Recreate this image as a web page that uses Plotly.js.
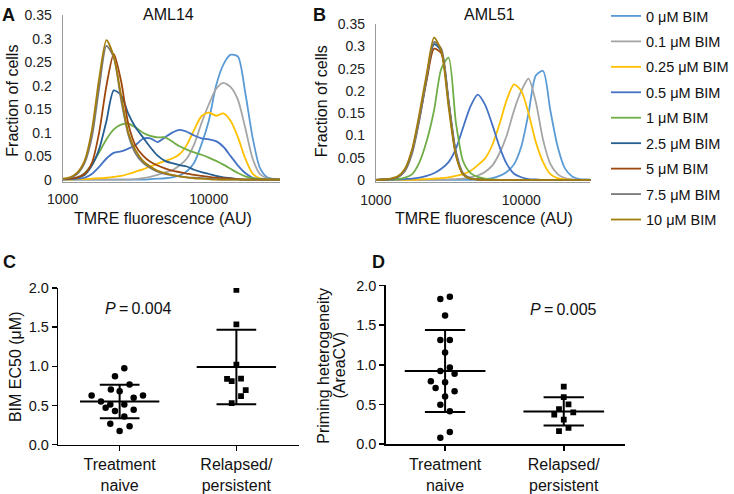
<!DOCTYPE html>
<html><head><meta charset="utf-8">
<script src="https://cdn.plot.ly/plotly-3.0.1.min.js"></script>
<style>html,body{margin:0;padding:0;background:#fff}#chart{width:734px;height:494px}</style>
</head><body><div id="chart"></div>
<script>
// ---------- DATA ----------
const tmreAU = [1000,1122,1259,1413,1585,1778,1995,2239,2512,2818,3162,3548,3981,4467,5012,5623,6310,7079,7943,8913,10000,11220,12589,14125,15849,17783,19953,22387,25119,28184,31623];
const tmreTicks = [1000, 10000];
const tmreTickText = ['1000', '10000'];
const fracTicks = [0,0.05,0.1,0.15,0.2,0.25,0.3,0.35];
const fracTickText = ['0','0.05','0.1','0.15','0.2','0.25','0.3','0.35'];
const doseLabels = ['0 μM BIM','0.1 μM BIM','0.25 μM BIM','0.5 μM BIM','1 μM BIM','2.5 μM BIM','5 μM BIM','7.5 μM BIM','10 μM BIM'];

// AML14 (panel A) fraction of cells per dose
const aml14_0   = [0,0,0,0,0,0,0,0,0,0,0,0,0.001,0.002,0.003,0.005,0.009,0.018,0.036,0.075,0.125,0.2,0.245,0.266,0.262,0.185,0.09,0.025,0.005,0.001,0];
const aml14_01  = [0,0,0,0,0,0,0,0,0,0,0.001,0.003,0.006,0.01,0.015,0.02,0.03,0.045,0.075,0.12,0.16,0.193,0.206,0.197,0.17,0.11,0.045,0.012,0.003,0.001,0];
const aml14_025 = [0,0,0.001,0.001,0.002,0.003,0.004,0.006,0.008,0.012,0.017,0.022,0.028,0.034,0.04,0.045,0.054,0.074,0.106,0.135,0.143,0.136,0.141,0.125,0.09,0.045,0.013,0.003,0.001,0,0];
const aml14_05  = [0,0.001,0.002,0.004,0.012,0.027,0.045,0.057,0.06,0.066,0.074,0.087,0.088,0.08,0.09,0.1,0.106,0.102,0.094,0.088,0.086,0.082,0.07,0.05,0.03,0.014,0.004,0.001,0,0,0];
const aml14_1   = [0.001,0.002,0.004,0.014,0.032,0.058,0.086,0.107,0.117,0.119,0.111,0.1,0.093,0.09,0.09,0.081,0.071,0.064,0.058,0.053,0.047,0.04,0.032,0.023,0.014,0.007,0.003,0.001,0,0,0];
const aml14_25  = [0.001,0.002,0.004,0.01,0.03,0.065,0.125,0.19,0.18,0.14,0.111,0.09,0.069,0.051,0.04,0.035,0.031,0.028,0.021,0.016,0.012,0.008,0.005,0.003,0.001,0,0,0,0,0,0];
const aml14_5   = [0.001,0.002,0.005,0.012,0.035,0.1,0.2,0.268,0.21,0.118,0.072,0.051,0.038,0.03,0.024,0.019,0.016,0.013,0.01,0.008,0.006,0.004,0.003,0.002,0.001,0,0,0,0,0,0];
const aml14_75  = [0.001,0.004,0.012,0.035,0.09,0.195,0.285,0.26,0.17,0.095,0.055,0.036,0.025,0.017,0.012,0.009,0.007,0.005,0.004,0.003,0.002,0.001,0,0,0,0,0,0,0,0,0];
const aml14_10  = [0.002,0.005,0.015,0.04,0.105,0.215,0.297,0.262,0.18,0.1,0.062,0.04,0.028,0.019,0.014,0.01,0.007,0.005,0.003,0.002,0.001,0,0,0,0,0,0,0,0,0,0];

// AML51 (panel B)
const aml51_0   = [0,0,0,0,0,0,0,0,0,0,0,0,0,0,0.001,0.002,0.004,0.009,0.018,0.035,0.075,0.15,0.235,0.245,0.156,0.075,0.026,0.008,0.002,0.001,0];
const aml51_01  = [0,0,0,0,0,0,0,0,0,0,0.001,0.002,0.003,0.006,0.01,0.018,0.032,0.06,0.1,0.156,0.2,0.228,0.175,0.09,0.036,0.013,0.004,0.001,0,0,0];
const aml51_025 = [0,0,0,0,0,0,0.001,0.002,0.003,0.004,0.006,0.009,0.013,0.02,0.033,0.048,0.078,0.125,0.18,0.215,0.2,0.15,0.085,0.04,0.013,0.004,0.001,0,0,0,0];
const aml51_05  = [0,0,0,0.001,0.002,0.003,0.005,0.009,0.015,0.025,0.04,0.07,0.118,0.165,0.192,0.17,0.125,0.075,0.036,0.014,0.006,0.002,0.001,0,0,0,0,0,0,0,0];
const aml51_1   = [0,0,0.001,0.002,0.005,0.013,0.04,0.088,0.156,0.25,0.275,0.13,0.042,0.016,0.007,0.003,0.001,0,0,0,0,0,0,0,0,0,0,0,0,0,0];
const aml51_25  = [0,0.001,0.002,0.006,0.022,0.065,0.14,0.23,0.305,0.29,0.175,0.06,0.013,0.003,0.001,0,0,0,0,0,0,0,0,0,0,0,0,0,0,0,0];
const aml51_5   = [0,0.001,0.002,0.006,0.022,0.065,0.14,0.225,0.295,0.285,0.175,0.06,0.013,0.003,0.001,0,0,0,0,0,0,0,0,0,0,0,0,0,0,0,0];
const aml51_75  = [0,0.001,0.002,0.006,0.02,0.06,0.135,0.23,0.31,0.295,0.18,0.065,0.015,0.004,0.001,0,0,0,0,0,0,0,0,0,0,0,0,0,0,0,0];
const aml51_10  = [0,0.001,0.003,0.008,0.025,0.07,0.15,0.24,0.32,0.29,0.165,0.055,0.012,0.003,0.001,0,0,0,0,0,0,0,0,0,0,0,0,0,0,0,0];

// Panels C and D
const groupLabels = ['Treatment<br>naive', 'Relapsed/<br>persistent'];
const scatterTicks = [0,0.5,1,1.5,2];
const scatterTickText = ['0.0','0.5','1.0','1.5','2.0'];

const ec50Naive = [0.975,0.873,0.767,0.703,0.682,0.627,0.627,0.597,0.551,0.513,0.513,0.470,0.445,0.428,0.360,0.267,0.233,0.174];
const ec50NaiveSpread = [0.04,-0.04,0.085,-0.075,0,-0.24,0.2,0.12,-0.16,-0.08,0.04,-0.12,0.12,-0.04,0.04,-0.08,0.085,0];
const ec50Relapsed = [1.975,1.534,1.021,0.839,0.809,0.843,0.695,0.619,0.530];
const ec50RelapsedSpread = [0,0,0,-0.08,-0.04,0.04,0.08,0.04,-0.04];
const ec50Mean = [0.55, 0.99];
const ec50SD = [0.215, 0.475];

const heteroNaive = [1.858,1.829,1.621,1.313,1.313,1.154,0.967,0.921,0.888,0.792,0.779,0.708,0.667,0.600,0.496,0.413,0.154,0.079];
const heteroNaiveSpread = [0.04,-0.04,0,-0.04,0.04,0,0.04,-0.04,0.08,-0.12,0,-0.08,0.08,0,-0.04,0.04,0.04,-0.04];
const heteroRelapsed = [0.725,0.592,0.5,0.442,0.4,0.371,0.308,0.204,0.163];
const heteroRelapsedSpread = [0,0,0.04,-0.04,0.08,-0.08,0,0.04,-0.04];
const heteroMean = [0.92, 0.412];
const heteroSD = [0.517, 0.177];

// ---------- STYLE ----------
const doseColors = ['#5B9BD5','#A5A5A5','#FFC000','#4472C4','#70AD47','#255E91','#9E480E','#7A7A7A','#A27C0C'];
const FONT = 'Liberation Sans, Arial, Helvetica, sans-serif';
const W = 734, H = 494;
const px = v => v / W, py = v => 1 - v / H;

const aml14 = [aml14_0,aml14_01,aml14_025,aml14_05,aml14_1,aml14_25,aml14_5,aml14_75,aml14_10];
const aml51 = [aml51_0,aml51_01,aml51_025,aml51_05,aml51_1,aml51_25,aml51_5,aml51_75,aml51_10];

const traces = [];
aml14.forEach((ys, i) => traces.push({
  x: tmreAU, y: ys, xaxis: 'x', yaxis: 'y', type: 'scatter', mode: 'lines',
  name: doseLabels[i], legendgroup: 'g' + i, showlegend: true,
  line: {color: doseColors[i], width: 1.8, shape: 'spline', smoothing: 0.7},
  hoverinfo: 'skip'
}));
aml51.forEach((ys, i) => traces.push({
  x: tmreAU, y: ys, xaxis: 'x2', yaxis: 'y2', type: 'scatter', mode: 'lines',
  name: doseLabels[i], legendgroup: 'g' + i, showlegend: false,
  line: {color: doseColors[i], width: 1.8, shape: 'spline', smoothing: 0.7},
  hoverinfo: 'skip'
}));

function barsTrace(xa, ya, means, sds) {
  const x = [], y = [];
  means.forEach((m, g) => {
    const s = sds[g];
    x.push(g - 0.34, g + 0.34, null, g - 0.17, g + 0.17, null, g - 0.17, g + 0.17, null, g, g, null);
    y.push(m, m, null, m + s, m + s, null, m - s, m - s, null, m - s, m + s, null);
  });
  return {x, y, xaxis: xa, yaxis: ya, type: 'scatter', mode: 'lines', showlegend: false,
    line: {color: '#000', width: 2}, hoverinfo: 'skip'};
}
function pointsTrace(xa, ya, g, vals, spread, symbol, size) {
  return {x: vals.map((v, k) => g + spread[k]), y: vals, xaxis: xa, yaxis: ya, type: 'scatter',
    mode: 'markers', showlegend: false, hoverinfo: 'skip',
    marker: {symbol, size, color: '#000', line: {width: 0}}};
}
traces.push(barsTrace('x3','y3', ec50Mean, ec50SD));
traces.push(pointsTrace('x3','y3', 0, ec50Naive, ec50NaiveSpread, 'circle', 6.5));
traces.push(pointsTrace('x3','y3', 1, ec50Relapsed, ec50RelapsedSpread, 'square', 5.8));
traces.push(barsTrace('x4','y4', heteroMean, heteroSD));
traces.push(pointsTrace('x4','y4', 0, heteroNaive, heteroNaiveSpread, 'circle', 6.5));
traces.push(pointsTrace('x4','y4', 1, heteroRelapsed, heteroRelapsedSpread, 'square', 5.8));

const histX = (d0, d1, r) => ({
  domain: [px(d0), px(d1)], type: 'log', range: r, tickvals: tmreTicks, ticktext: tmreTickText,
  showline: true, linecolor: '#9a9a9a', linewidth: 1, ticks: '', showgrid: false, zeroline: false,
  tickfont: {family: FONT, size: 14, color: '#222'}, ticklabelstandoff: 5, fixedrange: true
});
const histY = (top, zero, upp) => {
  const lo = -0.004;
  const bottom = zero + (0 - lo) * upp;
  return {domain: [py(bottom), py(top)], range: [lo, 0.35], tickvals: fracTicks, ticktext: fracTickText,
    showline: true, linecolor: '#9a9a9a', linewidth: 1, ticks: '', showgrid: false, zeroline: false,
    tickfont: {family: FONT, size: 14, color: '#222'}, ticklabelstandoff: 7, fixedrange: true};
};
const catX = (d0, d1, r) => ({
  domain: [px(d0), px(d1)], range: r, tickvals: [0, 1], ticktext: groupLabels,
  showline: true, linecolor: '#000', linewidth: 1.5, ticks: 'outside', ticklen: 5, tickwidth: 1.5, tickcolor: '#000',
  showgrid: false, zeroline: false, tickfont: {family: FONT, size: 16, color: '#111'}, fixedrange: true
});
const valY = (top, bottom) => ({
  domain: [py(bottom), py(top)], range: [0, 2], tickvals: scatterTicks, ticktext: scatterTickText,
  showline: true, linecolor: '#000', linewidth: 1.5, ticks: 'outside', ticklen: 5, tickwidth: 1.5, tickcolor: '#000',
  showgrid: false, zeroline: false, tickfont: {family: FONT, size: 14.5, color: '#111'}, fixedrange: true
});

const ann = (x, y, text, size, extra) => Object.assign({
  xref: 'paper', yref: 'paper', x: px(x), y: py(y), text, showarrow: false,
  xanchor: 'center', yanchor: 'middle', font: {family: FONT, size, color: '#111'}
}, extra || {});

const layout = {
  width: W, height: H, margin: {l: 0, r: 0, t: 0, b: 0},
  paper_bgcolor: '#fff', plot_bgcolor: 'rgba(0,0,0,0)', showlegend: true,
  xaxis: histX(63.3, 283, [3, 4.487]),
  yaxis: histY(14.3, 179, 470.6),
  xaxis2: Object.assign(histX(380, 597, [3, 4.476]), {anchor: 'y2'}),
  yaxis2: Object.assign(histY(23.3, 179.3, 445.7), {anchor: 'x2'}),
  xaxis3: Object.assign(catX(59, 302, [-0.525, 1.534]), {anchor: 'y3'}),
  yaxis3: Object.assign(valY(287.5, 444.5), {anchor: 'x3'}),
  xaxis4: Object.assign(catX(390, 632, [-0.5, 1.517]), {anchor: 'y4'}),
  yaxis4: Object.assign(valY(285, 444), {anchor: 'x4'}),
  legend: {x: px(613), xanchor: 'left', y: py(-1), yanchor: 'top', bgcolor: 'rgba(0,0,0,0)',
    font: {family: FONT, size: 14.5, color: '#111'}, traceorder: 'grouped', tracegroupgap: 3.6,
    itemclick: false, itemdoubleclick: false},
  annotations: [
    ann(9, 14, '<b>A</b>', 18),
    ann(170, 14, 'AML14', 16),
    ann(323, 14, '<b>B</b>', 18),
    ann(495, 14, 'AML51', 16),
    ann(13, 100, 'Fraction of cells', 16, {textangle: -90}),
    ann(325, 100, 'Fraction of cells', 16, {textangle: -90}),
    ann(165, 218, 'TMRE fluorescence (AU)', 16),
    ann(489, 218, 'TMRE fluorescence (AU)', 16),
    ann(10, 262, '<b>C</b>', 18),
    ann(383, 262, '<b>D</b>', 18),
    ann(15, 366, 'BIM EC50 (μM)', 16, {textangle: -90}),
    ann(327, 365, 'Priming heterogeneity', 16, {textangle: -90}),
    ann(343, 365, '(AreaCV)', 16, {textangle: -90}),
    ann(140, 308, '<i>P</i>\u2009=\u20090.004', 16),
    ann(570, 309, '<i>P</i>\u2009=\u20090.005', 16)
  ]
};

Plotly.newPlot('chart', traces, layout, {displayModeBar: false, staticPlot: true});
</script>
</body></html>
